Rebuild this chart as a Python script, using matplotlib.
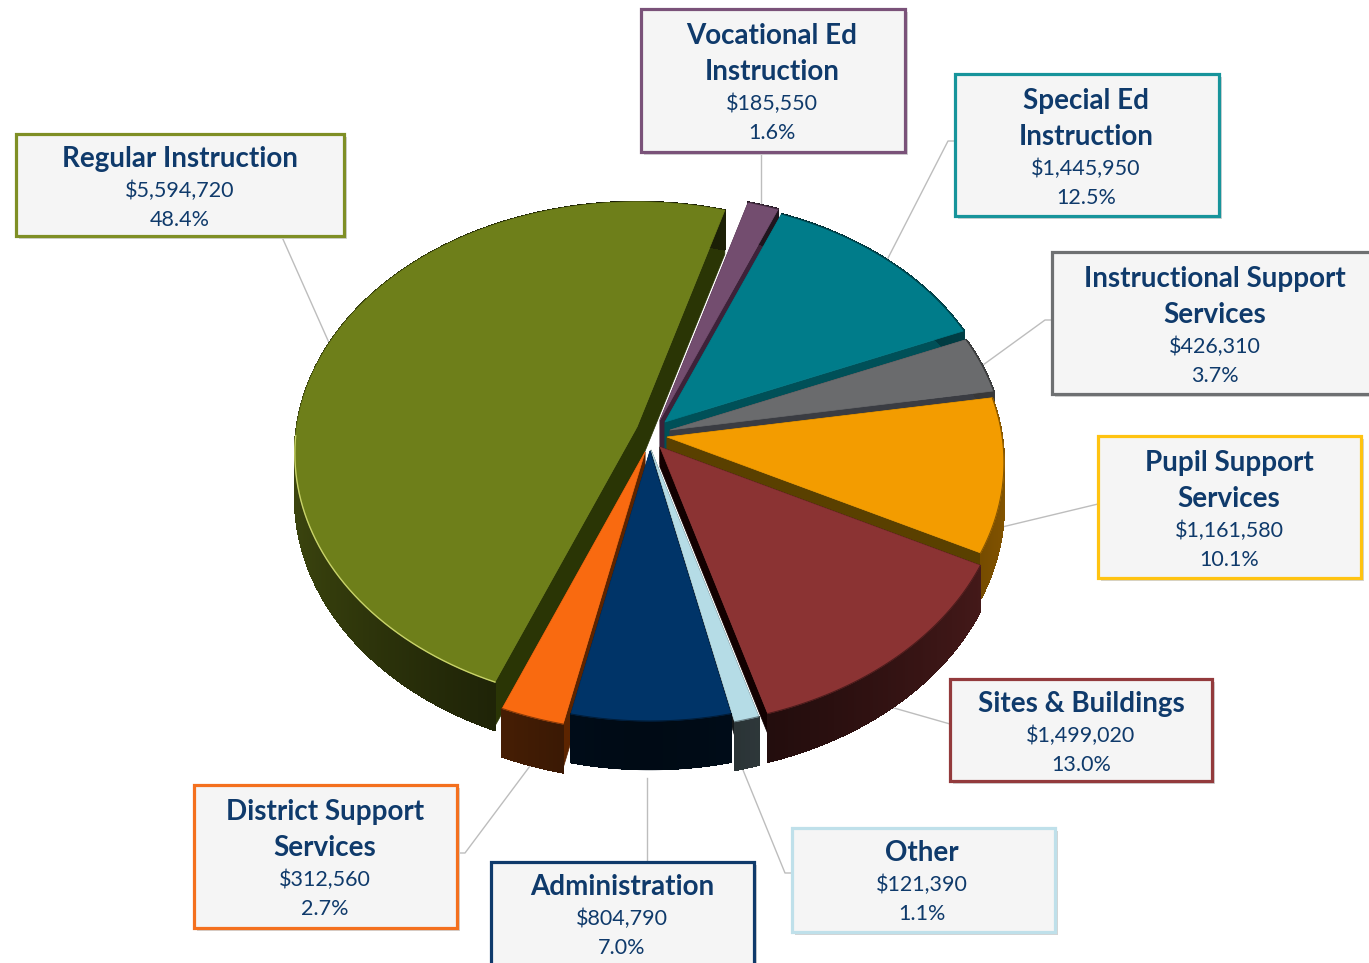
import numpy as np
import matplotlib
matplotlib.use("Agg")
import matplotlib.pyplot as plt
from matplotlib.patches import Rectangle

# ---------- data ----------
categories = ["Vocational Ed\nInstruction", "Special Ed\nInstruction", "Instructional Support\nServices",
              "Pupil Support\nServices", "Sites & Buildings", "Other", "Administration",
              "District Support\nServices", "Regular Instruction"]
amounts = [185550, 1445950, 426310, 1161580, 1499020, 121390, 804790, 312560, 5594720]
percents = ["1.6%", "12.5%", "3.7%", "10.1%", "13.0%", "1.1%", "7.0%", "2.7%", "48.4%"]
colors = ["#734D6F", "#007C8A", "#6A6B6D", "#F39C00", "#8B3333", "#B5DCE6", "#003468", "#F96A10", "#6E7F1A"]
cut_colors = ["#3D2239", "#005058", "#3A3C42", "#5A4000", "#120000", "#14181A", "#001428", "#5C2400", "#2A3505"]
edge_colors = ["#7A5279", "#17949B", "#6E7072", "#FFC311", "#933A3C", "#BFE0EA", "#0F3A6B", "#F4701E", "#7F8F25"]

# ---------- layout ----------
W, H = 1369, 963
CX, CY, RX, RY, P, DEPTH = 660, 440, 342, 250, 0.105, 44
START = 16.5
offsets = [(0, -20), (5, -18), (10, -10), (7, -3), (0, 7), (-9, 10), (-10, 11), (-15, 12), (-23, -13)]
radii = [1.0, 0.985, 0.975, 0.98, 1.0, 1.0, 0.97, 1.0, 0.995]
cut_depths = [44, 44, 44, 44, 20, 14, 44, 44, 44]
draw_order = [0, 1, 2, 8, 3, 5, 4, 7, 6]
boxes = [(641, 9, 905, 152), (955, 74, 1219, 216), (1052, 252, 1385, 394), (1098, 436, 1361, 578),
         (950, 679, 1212, 781), (792, 828, 1055, 932), (491, 862, 754, 985), (194, 785, 457, 928), (16, 134, 344, 236)]
text_x = [772, 1086, 1215, 1229, 1081, 922, 622, 325, 180]
text_y = [36, 101, 279, 463, 704, 853, 887, 812, 159]
leaders = [[(761, 152), (761, 206)], [(955, 141), (948, 141), (887, 260)], [(1052, 320), (1045, 320), (983, 365)],
           [(1098, 504), (998, 528)], [(950, 724), (887, 706)], [(792, 873), (785, 873), (743, 770)],
           [(647, 862), (647, 778)], [(458, 853), (465, 853), (533, 762)], [(282, 237), (330, 345)]]
TEXT = "#0F3A6B"
FONT = "Lato"


def project(theta_deg, r=1.0):
    t = np.radians(theta_deg)
    x, y = r * np.sin(t), r * np.cos(t)
    k = 1 / (1 + P * y)
    return CX + RX * x * k, CY - RY * y * k, k


def shade(c, f):
    rgb = np.array(matplotlib.colors.to_rgb(c))
    return tuple(np.clip(rgb * f, 0, 1))


fig = plt.figure(figsize=(W / 100, H / 100), dpi=100)
ax = fig.add_axes([0, 0, 1, 1])
ax.set_xlim(0, W)
ax.set_ylim(H, 0)
ax.axis("off")

total = sum(amounts)
angles = 360 * np.array(amounts) / total
starts = START + np.concatenate([[0], np.cumsum(angles)[:-1]])

z = 2.0
for i in draw_order:
    a0, a1 = starts[i], starts[i] + angles[i]
    ox, oy = offsets[i]
    c = colors[i]
    ths = np.linspace(a0, a1, max(int(angles[i]) * 2, 6))
    px, py, pk = project(ths, radii[i])
    px, py = px + ox, py + oy
    ax0, ay0, _ = project(0, 0)
    ax0 += ox
    ay0 += oy
    d = DEPTH * pk
    cd = cut_depths[i]
    # cut faces
    for (ex, ey) in ((px[0], py[0]), (px[-1], py[-1])):
        ax.fill([ax0, ex, ex, ax0], [ay0, ey, ey + cd, ay0 + cd], color=cut_colors[i], lw=0.5, zorder=z)
    z += 0.01
    # outer wall: solid base, then shaded strips
    ax.fill(np.r_[px, px[::-1]], np.r_[py, (py + d)[::-1]], color=shade(c, 0.3), lw=0.3, zorder=z)
    for j in range(len(ths) - 1):
        s = np.sin(np.radians((ths[j] + ths[j + 1]) / 2))
        f = 0.2 + 0.34 * abs(s) ** 1.5
        ax.fill([px[j], px[j + 1], px[j + 1], px[j]],
                [py[j], py[j + 1], py[j + 1] + d[j + 1] - 0.6, py[j] + d[j] - 0.6],
                color=shade(c, f), lw=0.8, antialiased=False, zorder=z)
    z += 0.01
    # top face
    ax.fill(np.r_[ax0, px], np.r_[ay0, py], color=c, lw=0.5, zorder=z)
    if i == 8:
        m = ths < 268
        ax.plot(px[m], py[m], color="#C9D36A", lw=1.0, zorder=z + 0.001)
    else:
        ax.plot(px, py, color=shade(c, 0.55), lw=0.8, zorder=z + 0.001)
    z += 0.01

for pts in leaders:
    xs, ys = zip(*pts)
    ax.plot(xs, ys, color="#BDBDBD", lw=1.0, zorder=1.5)

for i, (x0, y0, x1, y1) in enumerate(boxes):
    ax.add_patch(Rectangle((x0 + 3, y0 + 3), x1 - x0, y1 - y0, fc="#D4D4D4", ec="none", zorder=9))
    ax.add_patch(Rectangle((x0, y0), x1 - x0, y1 - y0, fc="#F5F5F5", ec=edge_colors[i], lw=2.3, zorder=10))
    y = text_y[i]
    for line in categories[i].split("\n"):
        ax.text(text_x[i], y, line, ha="center", va="center", fontsize=20, fontweight="bold",
                color=TEXT, family=FONT, zorder=11)
        y += 36
    y -= 4
    ax.text(text_x[i], y, f"${amounts[i]:,}", ha="center", va="center", fontsize=15.5, color=TEXT, family=FONT, zorder=11)
    ax.text(text_x[i], y + 29, percents[i], ha="center", va="center", fontsize=15.5, color=TEXT, family=FONT, zorder=11)

fig.savefig("out.png", dpi=100, facecolor="white")
